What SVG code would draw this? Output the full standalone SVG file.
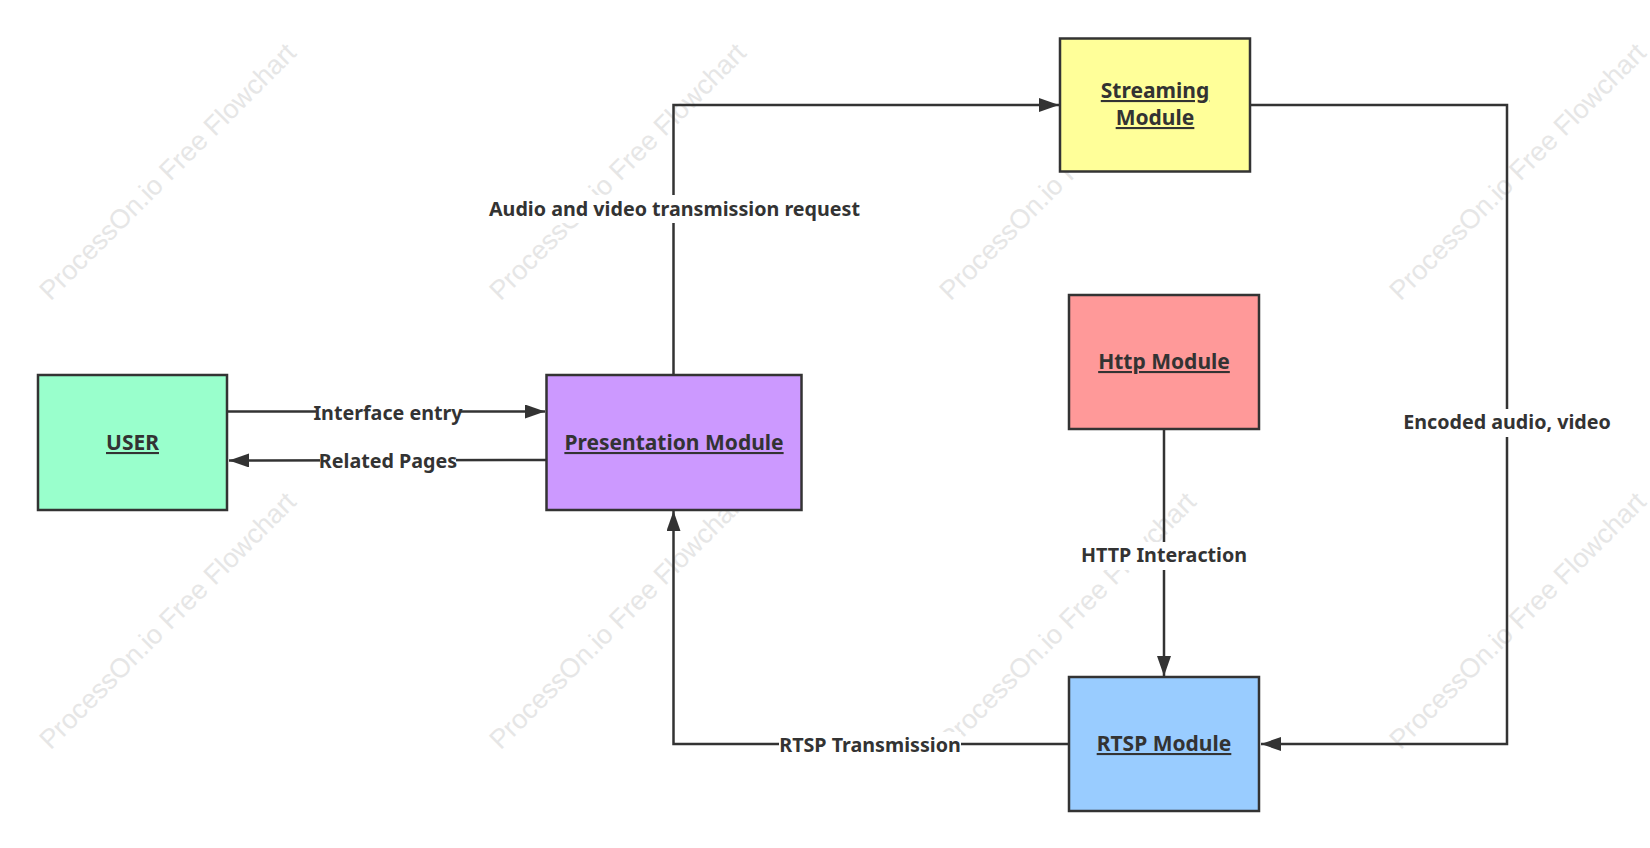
<svg xmlns="http://www.w3.org/2000/svg" width="1650" height="848" viewBox="0 0 1650 848">
<defs>
<style>
.wm{font-family:"Liberation Sans",Arial,sans-serif;font-size:27px;fill:#e6e6e6;text-anchor:middle}
.box{stroke:#333;stroke-width:2.5}
.nt{font-family:"Noto Sans","Open Sans",sans-serif;font-weight:bold;font-size:21px;fill:#333;text-anchor:middle;text-decoration:underline}
.lbl{font-family:"Noto Sans","Open Sans",sans-serif;font-weight:bold;font-size:19.7px;fill:#333;text-anchor:middle}
.ln{fill:none;stroke:#333;stroke-width:2.5}
.bg{fill:#fff}
</style>
<marker id="arrB" viewBox="0 0 20 14" refX="20" refY="7" markerWidth="20" markerHeight="14" markerUnits="userSpaceOnUse" orient="auto">
<path d="M0,0 L20,7 L0,14 z" fill="#333"/>
</marker>
</defs>
<rect width="1650" height="848" fill="#fff"/>
<g id="watermarks">
<text class="wm" transform="rotate(-45 174 178)" x="174" y="178">ProcessOn.io Free Flowchart</text>
<text class="wm" transform="rotate(-45 624 178)" x="624" y="178">ProcessOn.io Free Flowchart</text>
<text class="wm" transform="rotate(-45 1074 178)" x="1074" y="178">ProcessOn.io Free Flowchart</text>
<text class="wm" transform="rotate(-45 1524 178)" x="1524" y="178">ProcessOn.io Free Flowchart</text>
<text class="wm" transform="rotate(-45 174 627)" x="174" y="627">ProcessOn.io Free Flowchart</text>
<text class="wm" transform="rotate(-45 624 627)" x="624" y="627">ProcessOn.io Free Flowchart</text>
<text class="wm" transform="rotate(-45 1074 627)" x="1074" y="627">ProcessOn.io Free Flowchart</text>
<text class="wm" transform="rotate(-45 1524 627)" x="1524" y="627">ProcessOn.io Free Flowchart</text>
</g>
<g id="connectors">
<path class="ln" d="M228,411.5 L545,411.5" marker-end="url(#arrB)"/>
<path class="ln" d="M546,460 L229,460.5" marker-end="url(#arrB)"/>
<path class="ln" d="M673.5,374 L673.5,105 L1059,105" marker-end="url(#arrB)"/>
<path class="ln" d="M1251,105 L1507,105 L1507,744 L1261,744" marker-end="url(#arrB)"/>
<path class="ln" d="M1164,430 L1164,676" marker-end="url(#arrB)"/>
<path class="ln" d="M1068,744 L673.5,744 L673.5,511" marker-end="url(#arrB)"/>
<rect class="bg" x="316" y="400" width="144" height="26"/>
<text class="lbl" x="388" y="420">Interface entry</text>
<rect class="bg" x="320" y="449" width="136" height="26"/>
<text class="lbl" x="388" y="468">Related Pages</text>
<rect class="bg" x="490" y="195" width="369" height="28"/>
<text class="lbl" x="674.5" y="216">Audio and video transmission request</text>
<rect class="bg" x="1402" y="409" width="210" height="28"/>
<text class="lbl" x="1507" y="429">Encoded audio, video</text>
<rect class="bg" x="1082" y="542" width="164" height="28"/>
<text class="lbl" x="1164" y="562">HTTP Interaction</text>
<rect class="bg" x="779" y="732" width="182" height="28"/>
<text class="lbl" x="870" y="752">RTSP Transmission</text>
</g>
<g id="user">
<rect class="box" x="38" y="375" width="189" height="135" fill="#99FFCC"/>
<text class="nt" x="132.5" y="450">USER</text>
</g>
<g id="presentation">
<rect class="box" x="546.5" y="375" width="255" height="135" fill="#CC99FF"/>
<text class="nt" x="674" y="450">Presentation Module</text>
</g>
<g id="streaming">
<rect class="box" x="1060" y="38.5" width="190" height="133" fill="#FFFF99"/>
<text class="nt" x="1155" y="98">Streaming</text>
<text class="nt" x="1155" y="125">Module</text>
</g>
<g id="http">
<rect class="box" x="1069" y="295" width="190" height="134" fill="#FF9999"/>
<text class="nt" x="1164" y="369">Http Module</text>
</g>
<g id="rtsp">
<rect class="box" x="1069" y="677" width="190" height="134" fill="#99CCFF"/>
<text class="nt" x="1164" y="751">RTSP Module</text>
</g>
</svg>
